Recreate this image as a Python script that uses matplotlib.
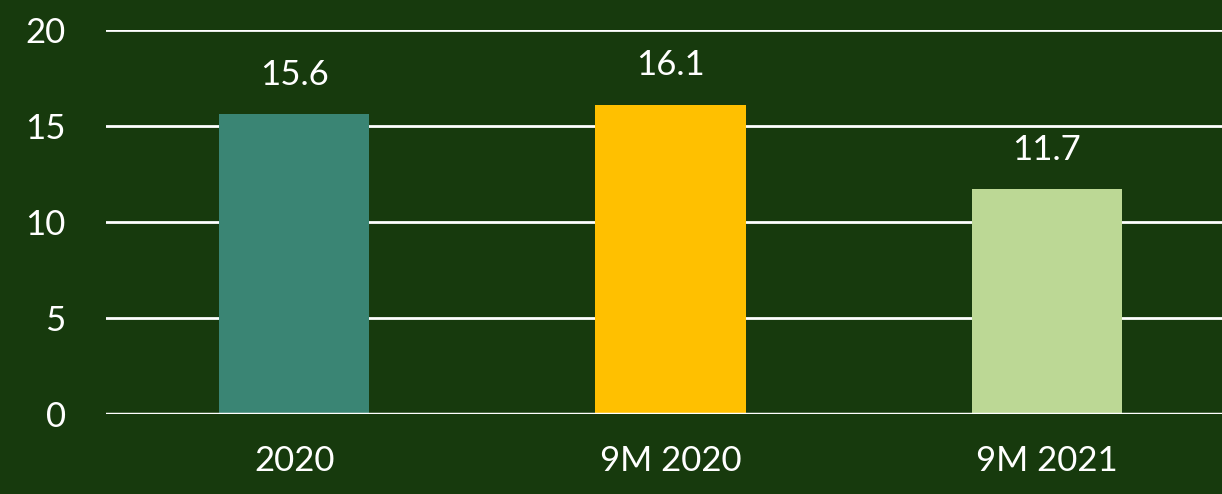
import matplotlib.pyplot as plt

categories = ["2020", "9M 2020", "9M 2021"]
values = [15.6, 16.1, 11.7]
bar_colors = ["#3a8574", "#ffc000", "#bcd895"]
bg = "#173a0d"

plt.rcParams["font.family"] = ["Lato", "DejaVu Sans"]

fig = plt.figure(figsize=(12.22, 4.94), dpi=100, facecolor=bg)
ax = fig.add_axes([106 / 1222, 80 / 494, 1129 / 1222, 384 / 494], facecolor=bg)

x = range(len(categories))
bars = ax.bar(x, values, width=0.4, color=bar_colors, zorder=3)
for b, v in zip(bars, values):
    ax.annotate(f"{v}", (b.get_x() + b.get_width() / 2, v), xytext=(0, 17),
                textcoords="offset points", ha="center", va="bottom",
                color="white", fontsize=25)

ax.set_xlim(-0.5, 2.5)
ax.set_ylim(0, 20)
ax.set_yticks([0, 5, 10, 15, 20])
ax.set_xticks(list(x))
ax.set_xticklabels(categories)
ax.grid(axis="y", color="white", linewidth=2, zorder=0)
ax.set_axisbelow(True)
for s in ax.spines.values():
    s.set_visible(False)
ax.axhline(0, color="white", linewidth=2.5, zorder=4)
ax.tick_params(axis="both", length=0, colors="white", labelsize=25)
ax.tick_params(axis="y", pad=29)
ax.tick_params(axis="x", pad=22)

fig.savefig("out.png", dpi=100, facecolor=bg)
